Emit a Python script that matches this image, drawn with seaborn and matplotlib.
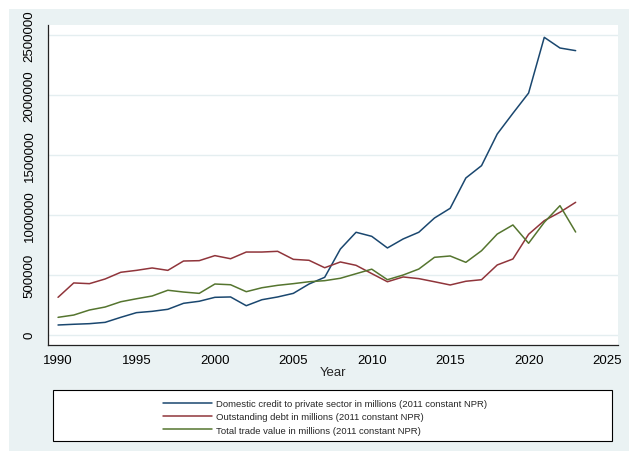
import numpy as np
import pandas as pd
import matplotlib
matplotlib.use("Agg")
import matplotlib.pyplot as plt
import matplotlib.patches as mpatches
import seaborn as sns

years = list(range(1990, 2024))
credit = [81, 87, 92, 103, 145, 184, 195, 212, 262, 279,
          312, 315, 242, 292, 315, 345, 423, 479, 715, 855,
          821, 724, 799, 855, 974, 1055, 1308, 1411, 1675, 1848,
          2017, 2482, 2393, 2371]
debt = [312, 432, 426, 465, 521, 537, 557, 537, 615, 618,
        660, 634, 690, 690, 696, 629, 621, 559, 607, 579,
        510, 442, 482, 468, 442, 415, 446, 459, 582, 632,
        838, 952, 1022, 1105]
trade = [145, 164, 206, 231, 275, 300, 323, 371, 356, 345,
         423, 417, 359, 392, 412, 426, 442, 451, 471, 509,
         547, 459, 498, 548, 646, 657, 604, 701, 840, 916,
         763, 938, 1077, 857]
series_names = [
    "Domestic credit to private sector in millions (2011 constant NPR)",
    "Outstanding debt in millions (2011 constant NPR)",
    "Total trade value in millions (2011 constant NPR)",
]
colors = ["#1a476f", "#90353b", "#55752f"]
x_ticks = [1990, 1995, 2000, 2005, 2010, 2015, 2020, 2025]
y_ticks = [0, 500000, 1000000, 1500000, 2000000, 2500000]

df = pd.DataFrame({
    "Year": years * 3,
    "value": [v * 1000 for v in credit + debt + trade],
    "series": [series_names[0]] * len(years) + [series_names[1]] * len(years) + [series_names[2]] * len(years),
})

sns.set_style("white")
plt.rcParams["font.family"] = ["Liberation Sans", "DejaVu Sans"]

W, H = 629, 452
fig = plt.figure(figsize=(W / 100, H / 100), dpi=100)
fig.patch.set_facecolor("white")

def fx(px):
    return px / W

def fy(py):
    return 1 - py / H

# Stata-like outer graph region
bg = mpatches.Rectangle((fx(9), 0), 1 - fx(9), fy(10), transform=fig.transFigure,
                        facecolor="#eaf2f3", edgecolor="none", zorder=-10)
fig.add_artist(bg)

ax = fig.add_axes([fx(48), fy(346), fx(618) - fx(48), fy(26) - fy(346)])
ax.set_facecolor("white")

sns.lineplot(data=df, x="Year", y="value", hue="series", hue_order=series_names,
             palette=dict(zip(series_names, colors)), linewidth=1.1, legend=False, ax=ax)

ax.set_xlim(1989.36, 2025.7)
ax.set_ylim(-86000, 2585000)
ax.set_xticks(x_ticks)
ax.set_xticklabels([str(t) for t in x_ticks])
ax.set_yticks(y_ticks)
ax.set_yticklabels([str(t) for t in y_ticks])
ax.grid(axis="y", color="#e4eef0", linewidth=1.0)
ax.grid(axis="x", visible=False)
ax.set_axisbelow(True)

for s in ["top", "right"]:
    ax.spines[s].set_visible(False)
for s in ["left", "bottom"]:
    ax.spines[s].set_color("#222222")
    ax.spines[s].set_linewidth(0.9)

ax.tick_params(axis="both", direction="out", length=3.8, width=0.8, color="#222222",
               labelsize=9.5, labelcolor="black")
ax.tick_params(axis="x", pad=2.5)
ax.tick_params(axis="y", pad=5.0, labelrotation=90)
for lab in ax.get_yticklabels():
    lab.set_va("center")
    lab.set_ha("right")

ax.set_ylabel("")
ax.set_xlabel("Year", fontsize=9.5, labelpad=0.5)

# Legend box
box = mpatches.Rectangle((fx(53.3), fy(441.7)), fx(611.7) - fx(53.3), fy(391) - fy(441.7),
                         transform=fig.transFigure, facecolor="white", edgecolor="black",
                         linewidth=0.8, zorder=-5)
fig.add_artist(box)
handles = ax.get_lines()[:3]
leg = fig.legend(handles, series_names, loc="center",
                 bbox_to_anchor=(fx(325.5), fy(418)), bbox_transform=fig.transFigure,
                 frameon=False, fontsize=6.8, handlelength=5.1, handletextpad=0.5,
                 labelspacing=0.45, borderpad=0)

fig.savefig("out.png", dpi=100, facecolor=fig.get_facecolor())
